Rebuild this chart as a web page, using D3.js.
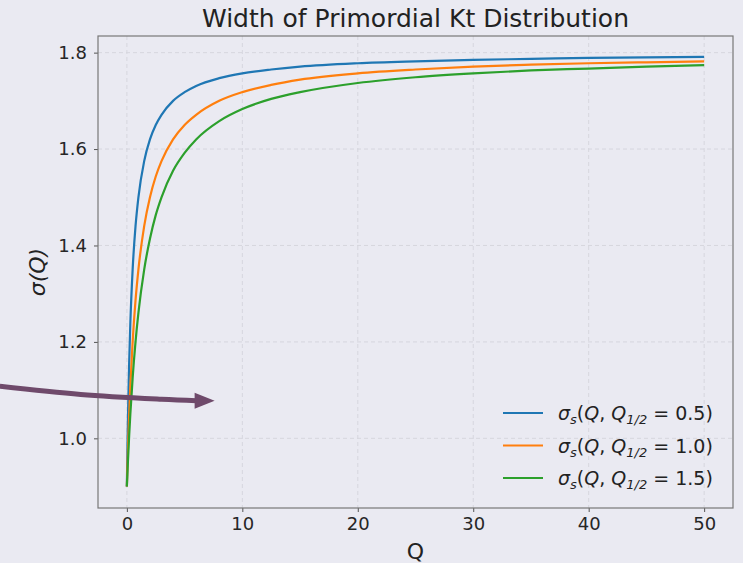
<!DOCTYPE html>
<html>
<head>
<meta charset="utf-8">
<script src="https://cdn.jsdelivr.net/npm/d3@7"></script>
<style>
  body { margin: 0; background: #eaeaf2; }
  svg { display: block; font-family: "DejaVu Sans", sans-serif; }
</style>
</head>
<body>
<div id="chart"></div>
<script>
// Q samples
const qValues = [0, 0.05, 0.1, 0.2, 0.3, 0.5, 0.75, 1, 1.5, 2, 2.5, 3, 4, 5, 6, 8, 10, 12.5, 15, 20, 25, 30, 35, 40, 45, 50];

const sigmaHalf05 = [0.9, 0.982, 1.05, 1.157, 1.238, 1.35, 1.44, 1.5, 1.575, 1.62, 1.65, 1.671, 1.70, 1.718, 1.731, 1.747, 1.757, 1.765, 1.771, 1.778, 1.782, 1.785, 1.787, 1.789, 1.790, 1.791];
const sigmaHalf10 = [0.9, 0.943, 0.982, 1.05, 1.108, 1.2, 1.286, 1.35, 1.44, 1.5, 1.543, 1.575, 1.62, 1.65, 1.671, 1.70, 1.718, 1.733, 1.744, 1.757, 1.765, 1.771, 1.775, 1.778, 1.780, 1.782];
const sigmaHalf15 = [0.9, 0.929, 0.956, 1.006, 1.05, 1.125, 1.2, 1.26, 1.35, 1.414, 1.463, 1.5, 1.555, 1.592, 1.62, 1.658, 1.683, 1.704, 1.718, 1.737, 1.749, 1.757, 1.763, 1.767, 1.771, 1.774];

const halfValues = ["0.5", "1.0", "1.5"];
const seriesColors = ["#1f77b4", "#ff7f0e", "#2ca02c"];

const xTicks = [0, 10, 20, 30, 40, 50];
const yTicks = [1.0, 1.2, 1.4, 1.6, 1.8];

// annotation arrow (in data coordinates)
const arrowQ = [-11, -4, 3, 7.6];
const arrowSigma = [1.108, 1.091, 1.081, 1.078];

const width = 743, height = 563;
const margin = { top: 36, right: 10, bottom: 55, left: 98 };

const svg = d3.select('#chart').append('svg')
    .attr('width', width)
    .attr('height', height);

svg.append('rect').attr('width', width).attr('height', height).attr('fill', '#eaeaf2');

const x = d3.scaleLinear().domain([-2.5, 52.5]).range([margin.left, width - margin.right]);
const y = d3.scaleLinear().domain([0.8555, 1.8345]).range([height - margin.bottom, margin.top]);

// grid
const grid = svg.append('g').attr('stroke', '#d6d6de').attr('stroke-width', 1).attr('stroke-dasharray', '4,3');
grid.selectAll('.gx').data(xTicks).enter().append('line')
    .attr('x1', d => x(d)).attr('x2', d => x(d))
    .attr('y1', y.range()[1]).attr('y2', y.range()[0]);
grid.selectAll('.gy').data(yTicks).enter().append('line')
    .attr('x1', x.range()[0]).attr('x2', x.range()[1])
    .attr('y1', d => y(d)).attr('y2', d => y(d));

// axes
const xAxis = svg.append('g')
    .attr('transform', `translate(0,${height - margin.bottom})`)
    .call(d3.axisBottom(x).tickValues(xTicks).tickFormat(d3.format('d')).tickSize(4).tickPadding(5));
const yAxis = svg.append('g')
    .attr('transform', `translate(${margin.left},0)`)
    .call(d3.axisLeft(y).tickValues(yTicks).tickFormat(d3.format('.1f')).tickSize(4).tickPadding(7));

[xAxis, yAxis].forEach(a => {
    a.select('.domain').remove();
    a.selectAll('.tick line').attr('stroke', '#555');
    a.selectAll('.tick text').attr('fill', '#262626').style('font-size', '18px').style('font-family', '"DejaVu Sans", sans-serif');
});

// frame
svg.append('rect')
    .attr('x', x.range()[0]).attr('y', y.range()[1])
    .attr('width', x.range()[1] - x.range()[0])
    .attr('height', y.range()[0] - y.range()[1])
    .attr('fill', 'none').attr('stroke', '#777').attr('stroke-width', 1.2);

// curves
const allSeries = [sigmaHalf05, sigmaHalf10, sigmaHalf15];
const line = d3.line()
    .x((d, i) => x(qValues[i]))
    .y(d => y(d))
    .curve(d3.curveMonotoneX);

svg.append('defs').append('clipPath').attr('id', 'clip')
    .append('rect')
    .attr('x', x.range()[0]).attr('y', y.range()[1])
    .attr('width', x.range()[1] - x.range()[0])
    .attr('height', y.range()[0] - y.range()[1]);

svg.append('g').attr('clip-path', 'url(#clip)')
    .selectAll('path').data(allSeries).enter().append('path')
    .attr('d', d => line(d))
    .attr('fill', 'none')
    .attr('stroke', (d, i) => seriesColors[i])
    .attr('stroke-width', 2.2);

// title and labels
svg.append('text')
    .attr('x', (x.range()[0] + x.range()[1]) / 2).attr('y', 27)
    .attr('text-anchor', 'middle')
    .style('font-size', '25px').attr('fill', '#222')
    .text('Width of Primordial Kt Distribution');

svg.append('text')
    .attr('x', (x.range()[0] + x.range()[1]) / 2).attr('y', 559)
    .attr('text-anchor', 'middle')
    .style('font-size', '22px').attr('fill', '#222')
    .text('Q');

svg.append('text')
    .attr('transform', `translate(45,${(y.range()[0] + y.range()[1]) / 2}) rotate(-90)`)
    .attr('text-anchor', 'middle')
    .style('font-size', '22px').attr('fill', '#222')
    .style('font-style', 'italic')
    .text('σ(Q)');

// legend
const legend = svg.append('g').attr('transform', 'translate(503,413)');
halfValues.forEach((h, i) => {
    const row = legend.append('g').attr('transform', `translate(0,${i * 32.5})`);
    row.append('line').attr('x1', 0).attr('x2', 40).attr('y1', 0).attr('y2', 0)
        .attr('stroke', seriesColors[i]).attr('stroke-width', 2.2);
    const t = row.append('text').attr('x', 55).attr('y', 7).style('font-size', '19px').attr('fill', '#222');
    t.append('tspan').style('font-style', 'italic').text('σ');
    t.append('tspan').style('font-style', 'italic').style('font-size', '13px').attr('dy', 4).text('s');
    t.append('tspan').attr('dy', -4).text('(');
    t.append('tspan').style('font-style', 'italic').text('Q');
    t.append('tspan').text(', ');
    t.append('tspan').style('font-style', 'italic').text('Q');
    t.append('tspan').style('font-size', '13px').style('font-style', 'italic').attr('dy', 4).text('1/2');
    t.append('tspan').attr('dy', -4).text(' = ' + h + ')');
});

// annotation arrow
const arrowPts = arrowQ.map((q, i) => [x(q), y(arrowSigma[i])]);
const tip = arrowPts[arrowPts.length - 1];
const bodyEnd = [tip[0] - 18, tip[1]];
const arrowLine = d3.line().curve(d3.curveCatmullRom);
svg.append('path')
    .attr('d', arrowLine(arrowPts.slice(0, -1).concat([bodyEnd])))
    .attr('fill', 'none').attr('stroke', '#6f4a6b').attr('stroke-width', 5);
svg.append('path')
    .attr('d', `M${tip[0]},${tip[1]} L${tip[0] - 20},${tip[1] - 8} L${tip[0] - 20},${tip[1] + 8} Z`)
    .attr('fill', '#6f4a6b');
</script>
</body>
</html>
